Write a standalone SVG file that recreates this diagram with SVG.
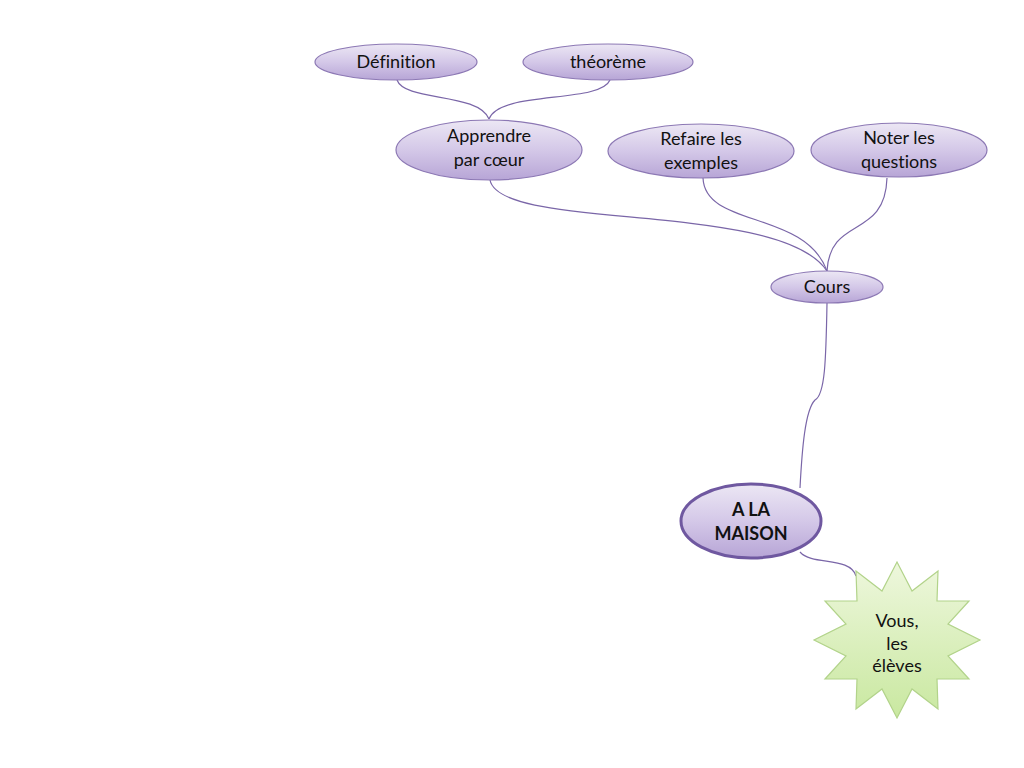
<svg xmlns="http://www.w3.org/2000/svg" width="1024" height="768" viewBox="0 0 1024 768">
<defs>
<linearGradient id="gp" x1="0" y1="0" x2="0" y2="1">
<stop offset="0" stop-color="#ece7f4"/>
<stop offset="0.5" stop-color="#d4c8e8"/>
<stop offset="1" stop-color="#b7a5d6"/>
</linearGradient>
<linearGradient id="gg" x1="0" y1="0" x2="0" y2="1">
<stop offset="0" stop-color="#eef7dd"/>
<stop offset="1" stop-color="#c9e8a0"/>
</linearGradient>
</defs>
<style>
.n{fill:url(#gp);stroke:#8c78b4;stroke-width:1.2}
.m{fill:url(#gp);stroke:#6f58a0;stroke-width:3}
.t{font-family:Lato,"Open Sans",sans-serif;font-size:18px;fill:#111;text-anchor:middle;font-variant-ligatures:none}
.b{font-weight:bold}
.c{fill:none;stroke:#7a66a8;stroke-width:1.2}
</style>
<rect width="1024" height="768" fill="#fff"/>
<g id="connectors">
<path class="c" d="M397,80 C405,102 478,92 489,119"/>
<path class="c" d="M610,80 C600,104 500,90 489,119"/>
<path class="c" d="M490,180 C500,232 780,200 827,271"/>
<path class="c" d="M703,178 C705,228 805,210 827,271"/>
<path class="c" d="M887,178 C885,240 830,215 827,271"/>
<path class="c" d="M827,303 C826,360 825,395 815,400 C805,410 802,450 800,488"/>
<path class="c" d="M800,552 C812,566 850,556 856,576"/>
</g>
<g id="definition"><ellipse class="n" cx="396" cy="62" rx="81" ry="18"/><text class="t" x="396" y="68">Définition</text></g>
<g id="theoreme"><ellipse class="n" cx="608" cy="62" rx="85" ry="18"/><text class="t" x="608" y="68">théorème</text></g>
<g id="apprendre"><ellipse class="n" cx="489" cy="150" rx="93" ry="30"/><text class="t" x="489" y="142">Apprendre</text><text class="t" x="489" y="166">par cœur</text></g>
<g id="refaire"><ellipse class="n" cx="701" cy="151" rx="93" ry="27"/><text class="t" x="701" y="145">Refaire les</text><text class="t" x="701" y="169">exemples</text></g>
<g id="noter"><ellipse class="n" cx="899" cy="150" rx="88" ry="27"/><text class="t" x="899" y="144">Noter les</text><text class="t" x="899" y="168">questions</text></g>
<g id="cours"><ellipse class="n" cx="827" cy="287" rx="56" ry="16"/><text class="t" x="827" y="293">Cours</text></g>
<g id="maison"><ellipse class="m" cx="751" cy="521" rx="70" ry="37"/><text class="t b" x="751" y="516">A LA</text><text class="t b" x="751" y="540">MAISON</text></g>
<g id="eleves">
<polygon fill="url(#gg)" stroke="#b2d38a" stroke-width="1.2" points="897,562 912,591 938,571 937,601 969,601 948,624 980,640 948,656 969,679 937,679 938,709 912,689 897,718 882,689 856,709 857,679 825,679 846,656 814,640 846,624 825,601 857,601 856,571 882,591"/>
<text class="t" x="897" y="627">Vous,</text><text class="t" x="897" y="650">les</text><text class="t" x="897" y="672">élèves</text>
</g>
</svg>
